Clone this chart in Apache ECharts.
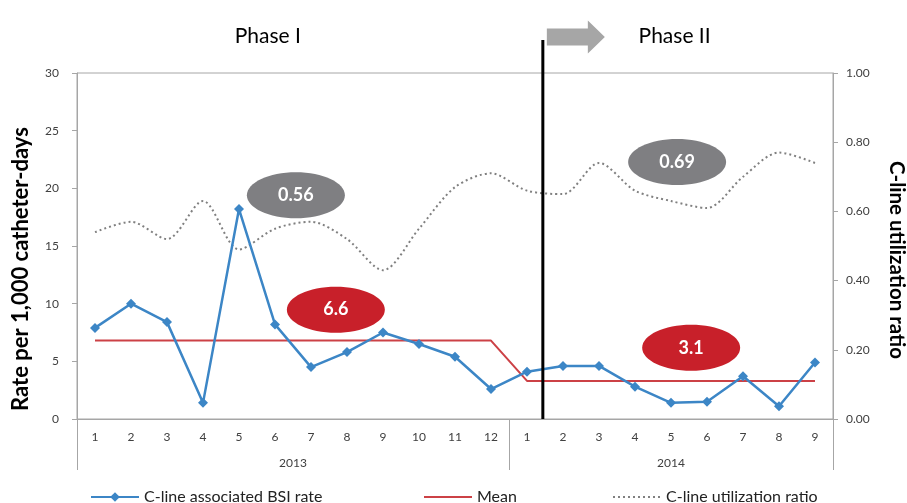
<!DOCTYPE html>
<html><head><meta charset="utf-8">
<script src="https://cdn.jsdelivr.net/npm/echarts@6/dist/echarts.min.js"></script>
<style>html,body{margin:0;padding:0;background:#fff}#c{width:907px;height:503px}</style>
</head><body><div id="c"></div>
<script>
// ---- data ----
const years = ['2013', '2014'];
const monthsPerYear = [12, 9];
const months = ['1','2','3','4','5','6','7','8','9','10','11','12','1','2','3','4','5','6','7','8','9'];
const bsiRate = [7.9, 10.0, 8.4, 1.4, 18.2, 8.2, 4.5, 5.8, 7.5, 6.5, 5.4, 2.6,
                 4.1, 4.6, 4.6, 2.8, 1.4, 1.5, 3.7, 1.1, 4.9];
const meanRate = [6.8, 6.8, 6.8, 6.8, 6.8, 6.8, 6.8, 6.8, 6.8, 6.8, 6.8, 6.8,
                  3.3, 3.3, 3.3, 3.3, 3.3, 3.3, 3.3, 3.3, 3.3];
const utilRatio = [0.54, 0.57, 0.52, 0.63, 0.49, 0.55, 0.57, 0.52, 0.43, 0.55, 0.67, 0.71,
                   0.66, 0.65, 0.74, 0.66, 0.63, 0.61, 0.70, 0.77, 0.74];
const leftAxisRange = [0, 30, 5];
const rightAxisRange = [0, 1, 0.2];
const phaseNames = ['Phase I', 'Phase II'];
const utilMeanLabels = ['0.56', '0.69'];
const rateMeanLabels = ['6.6', '3.1'];
const seriesNames = ['C-line associated BSI rate', 'Mean', 'C-line utilization ratio'];

// build categories (unique keys)
const categories = [];
let k = 0;
years.forEach((y, yi) => { for (let m = 0; m < monthsPerYear[yi]; m++) { categories.push(y + '-' + months[k]); k++; } });
const total = monthsPerYear.reduce((a, b) => a + b, 0);
const yearBounds = [0]; monthsPerYear.forEach(n => yearBounds.push(yearBounds[yearBounds.length - 1] + n));
const yearCenters = years.map((y, i) => (yearBounds[i] + yearBounds[i + 1]) / 2);

const FONT = 'Lato, "Liberation Sans", sans-serif';
const AX = '#a6a6a6';
const TXT = '#404040';

const chart = echarts.init(document.getElementById('c'), null, {renderer: 'canvas'});
const legendBase = {
  top: 484, itemWidth: 48, itemHeight: 12, itemGap: 6,
  textStyle: {fontFamily: FONT, fontSize: 16, color: '#222'}
};
chart.setOption({
  animation: false,
  backgroundColor: '#fff',
  grid: {left: 77, right: 74, top: 73, bottom: 84, show: true, borderColor: AX, borderWidth: 1, backgroundColor: 'transparent'},
  legend: [
    Object.assign({}, legendBase, {left: 85, data: [seriesNames[0]]}),
    Object.assign({}, legendBase, {left: 418, data: [{name: seriesNames[1], itemStyle: {opacity: 0}}]}),
    Object.assign({}, legendBase, {left: 607, data: [{name: seriesNames[2], itemStyle: {opacity: 0}}]})
  ],
  xAxis: [
    {
      type: 'category', data: categories, boundaryGap: true,
      axisLine: {show: true, lineStyle: {color: AX}},
      axisTick: {show: false},
      axisLabel: {interval: 0, margin: 12, fontFamily: FONT, fontSize: 12, color: TXT,
        formatter: v => v.split('-')[1]},
      splitLine: {show: false}
    },
    {
      type: 'value', min: 0, max: total, position: 'bottom',
      axisLine: {show: false},
      axisTick: {show: true, customValues: yearBounds, length: 51, lineStyle: {color: AX}},
      axisLabel: {show: true, customValues: yearCenters, margin: 38, fontFamily: FONT, fontSize: 12, color: TXT,
        formatter: v => { const i = yearCenters.indexOf(v); return i >= 0 ? years[i] : ''; }},
      splitLine: {show: false}
    }
  ],
  yAxis: [
    {
      type: 'value', min: leftAxisRange[0], max: leftAxisRange[1], interval: leftAxisRange[2],
      axisLine: {show: true, lineStyle: {color: AX}},
      axisTick: {show: true, length: 5, lineStyle: {color: AX}},
      axisLabel: {margin: 18, fontFamily: FONT, fontSize: 12, color: TXT},
      splitLine: {show: false}
    },
    {
      type: 'value', min: rightAxisRange[0], max: rightAxisRange[1], interval: rightAxisRange[2], position: 'right',
      axisLine: {show: true, lineStyle: {color: AX}},
      axisTick: {show: true, length: 5, lineStyle: {color: AX}},
      axisLabel: {margin: 13, fontFamily: FONT, fontSize: 12, color: TXT, formatter: v => v.toFixed(2)},
      splitLine: {show: false}
    }
  ],
  series: [
    {
      name: seriesNames[0], type: 'line', yAxisIndex: 0, data: bsiRate,
      symbol: 'diamond', symbolSize: 10, color: '#3c86c6',
      lineStyle: {width: 2.5, color: '#3c86c6'}, itemStyle: {color: '#3c86c6'}, z: 5
    },
    {
      name: seriesNames[1], type: 'line', yAxisIndex: 0, data: meanRate,
      symbol: 'none', color: '#cc4146', lineStyle: {width: 2, color: '#cc4146'}, z: 4
    },
    {
      name: seriesNames[2], type: 'line', yAxisIndex: 1, data: utilRatio, smooth: 0.3,
      symbol: 'none', color: '#808080', lineStyle: {width: 2, type: [2, 3], color: '#808080'}, z: 3
    }
  ]
});

// ---- annotations positioned through the axes ----
const X = v => chart.convertToPixel({xAxisIndex: 1}, v);
const YL = v => chart.convertToPixel({yAxisIndex: 0}, v);
const YR = v => chart.convertToPixel({yAxisIndex: 1}, v);
const lineX = X(12.94);
const bottomY = YL(0);
const ell = (cx, cy, fill, text) => ({
  type: 'group', children: [
    {type: 'ellipse', shape: {cx: cx, cy: cy, rx: 49, ry: 23}, style: {fill: fill}},
    {type: 'text', x: cx, y: cy, style: {text: text, fill: '#fff', font: 'bold 18px ' + FONT, align: 'center', verticalAlign: 'middle'}}
  ]
});
const arrowY = 37;
chart.setOption({
  graphic: [
    {type: 'line', shape: {x1: lineX, y1: 40, x2: lineX, y2: bottomY}, style: {stroke: '#000', lineWidth: 3}, z: 10},
    {type: 'polygon', shape: {points: [
      [lineX + 4, arrowY - 8.5], [lineX + 45, arrowY - 8.5], [lineX + 45, arrowY - 16.5], [lineX + 62, arrowY],
      [lineX + 45, arrowY + 16.5], [lineX + 45, arrowY + 8.5], [lineX + 4, arrowY + 8.5]]},
      style: {fill: '#a6a6a6'}},
    {type: 'text', x: X(5.3), y: 36, style: {text: phaseNames[0], font: '21px ' + FONT, fill: '#000', align: 'center', verticalAlign: 'middle'}},
    {type: 'text', x: X(16.6), y: 36, style: {text: phaseNames[1], font: '21px ' + FONT, fill: '#000', align: 'center', verticalAlign: 'middle'}},
    ell(X(6.08), YR(0.647), '#7f7f82', utilMeanLabels[0]),
    ell(X(7.19), YL(9.48), '#c8202a', rateMeanLabels[0]),
    ell(X(16.67), YR(0.743), '#7f7f82', utilMeanLabels[1]),
    ell(X(17.06), YL(6.17), '#c8202a', rateMeanLabels[1]),
    {type: 'text', x: 21, y: 269, rotation: Math.PI / 2,
      style: {text: 'Rate per 1,000 catheter-days', font: 'bold 22px ' + FONT, fill: '#000', align: 'center', verticalAlign: 'middle'}},
    {type: 'text', x: 897, y: 260, rotation: -Math.PI / 2,
      style: {text: 'C-line utilization ratio', font: 'bold 20.5px ' + FONT, fill: '#000', align: 'center', verticalAlign: 'middle'}}
  ]
});
</script></body></html>
